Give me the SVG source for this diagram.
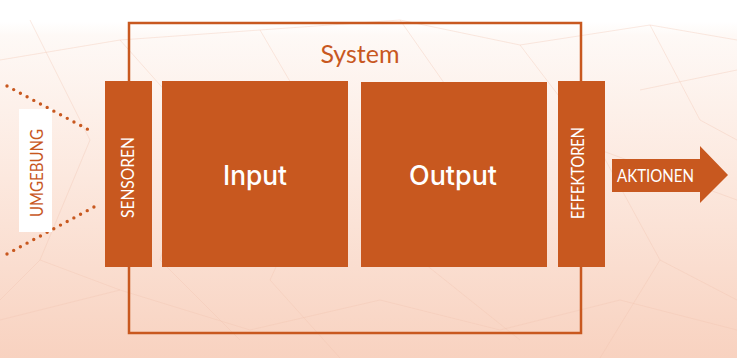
<svg xmlns="http://www.w3.org/2000/svg" width="737" height="358" viewBox="0 0 737 358">
  <defs>
    <linearGradient id="bg" x1="0" y1="0" x2="0" y2="1">
      <stop offset="0" stop-color="#ffffff"/>
      <stop offset="0.06" stop-color="#ffffff"/>
      <stop offset="0.1" stop-color="#fef9f6"/>
      <stop offset="0.5" stop-color="#fce8de"/>
      <stop offset="1" stop-color="#f8d2c0"/>
    </linearGradient>
    <style>
      .box { fill: #c8581f; }
      .frame { fill: none; stroke: #c8581f; stroke-width: 2.5; }
      .net { fill: none; stroke: #f1c4ae; stroke-width: 1; opacity: 0.35; }
      .big { font-family: Inter, "Liberation Sans", sans-serif; font-weight: 500; font-size: 27px; fill: #ffffff; text-anchor: middle; }
      .small { font-family: Lato, "Liberation Sans", sans-serif; font-size: 17px; fill: #ffffff; text-anchor: middle; }
      .dots { fill: none; stroke: #c8581f; stroke-width: 3.4; stroke-linecap: round; stroke-dasharray: 0 7.6; }
    </style>
  </defs>
  <rect x="0" y="0" width="737" height="358" fill="url(#bg)"/>
  <g id="background-net">
    <path class="net" d="M0 60 L120 40 L260 30 L400 20 L520 45 L650 25 L737 40"/>
    <path class="net" d="M30 20 L90 140 L40 260 L0 300"/>
    <path class="net" d="M120 40 L200 130 L160 260 L240 340"/>
    <path class="net" d="M260 30 L330 150 L270 280 L340 358"/>
    <path class="net" d="M400 20 L470 120 L420 260 L520 340"/>
    <path class="net" d="M520 45 L600 150 L660 260 L737 300"/>
    <path class="net" d="M650 25 L700 120 L737 140"/>
    <path class="net" d="M0 320 L120 290 L250 330 L380 300 L500 330 L620 300 L737 330"/>
    <path class="net" d="M600 150 L737 200"/>
    <path class="net" d="M660 260 L600 358"/>
    <path class="net" d="M40 260 L120 290"/>
    <path class="net" d="M640 90 L737 70"/>
  </g>
  <g id="system">
    <rect class="frame" x="129" y="23" width="452" height="310"/>
    <text x="360" y="63" font-family="Lato, 'Liberation Sans', sans-serif" font-size="25" fill="#c8581f" text-anchor="middle">System</text>
  </g>
  <g id="connectors">
    <path class="dots" d="M7 86 L94 132.7"/>
    <path class="dots" d="M7 254 L94 207"/>
    <path id="aktionen-arrow" class="box" d="M612 159 L700 159 L700 146 L728 175 L700 203 L700 192 L612 192 Z"/>
    <text class="small" x="655.5" y="182" textLength="77" lengthAdjust="spacingAndGlyphs">AKTIONEN</text>
  </g>
  <g id="umgebung">
    <rect x="19" y="109" width="33" height="123" fill="#ffffff"/>
    <text class="small" style="fill:#c8581f" transform="translate(42.5 173) rotate(-90)" textLength="88" lengthAdjust="spacingAndGlyphs">UMGEBUNG</text>
  </g>
  <g id="sensoren">
    <rect class="box" x="105" y="81" width="47" height="186"/>
    <text class="small" transform="translate(133.8 177.5) rotate(-90)" textLength="81" lengthAdjust="spacingAndGlyphs">SENSOREN</text>
  </g>
  <g id="input">
    <rect class="box" x="162" y="81" width="186" height="186"/>
    <text class="big" x="255" y="185" textLength="64" lengthAdjust="spacingAndGlyphs">Input</text>
  </g>
  <g id="output">
    <rect class="box" x="361" y="82" width="186" height="185"/>
    <text class="big" x="453" y="185" textLength="88" lengthAdjust="spacingAndGlyphs">Output</text>
  </g>
  <g id="effektoren">
    <rect class="box" x="558" y="81" width="47" height="186"/>
    <text class="small" transform="translate(583.8 173) rotate(-90)" textLength="92" lengthAdjust="spacingAndGlyphs">EFFEKTOREN</text>
  </g>
</svg>
